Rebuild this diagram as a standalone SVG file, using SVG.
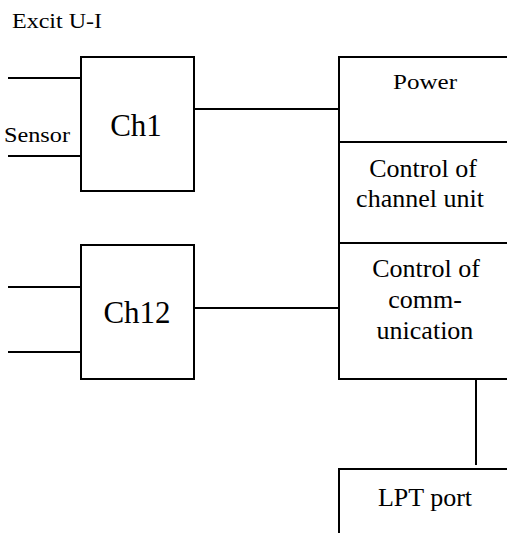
<svg xmlns="http://www.w3.org/2000/svg" width="507" height="533" viewBox="0 0 507 533">
<style>
.box{fill:#fff;stroke:#000;stroke-width:2}
.ln{stroke:#000;stroke-width:2;fill:none}
text{font-family:"Liberation Serif","Times New Roman",serif;fill:#000}
.s{font-size:21px}
.m{font-size:26px;text-anchor:middle}
.l{font-size:31px;text-anchor:middle}
</style>
<rect width="507" height="533" fill="#fff"/>
<text class="s" x="12" y="28" textLength="90" lengthAdjust="spacingAndGlyphs">Excit U-I</text>
<text class="s" x="4" y="142" textLength="66" lengthAdjust="spacingAndGlyphs">Sensor</text>
<g id="connectors">
<line class="ln" x1="8" y1="78" x2="81" y2="78"/>
<line class="ln" x1="8" y1="156" x2="81" y2="156"/>
<line class="ln" x1="8" y1="287" x2="81" y2="287"/>
<line class="ln" x1="8" y1="352" x2="81" y2="352"/>
<line class="ln" x1="194" y1="109" x2="339" y2="109"/>
<line class="ln" x1="194" y1="308" x2="339" y2="308"/>
<line class="ln" x1="476" y1="380" x2="476" y2="465"/>
</g>
<g id="ch1">
<rect class="box" x="81" y="57" width="113" height="134"/>
<text class="l" x="136" y="136">Ch1</text>
</g>
<g id="ch12">
<rect class="box" x="81" y="245" width="113" height="134"/>
<text class="l" x="137" y="323">Ch12</text>
</g>
<g id="power">
<rect class="box" x="339" y="57" width="190" height="85"/>
<text class="m" x="425" y="89" style="font-size:21px" textLength="64" lengthAdjust="spacingAndGlyphs">Power</text>
</g>
<g id="control-channel">
<rect class="box" x="339" y="142" width="190" height="101"/>
<text class="m" x="423" y="177">Control of</text>
<text class="m" x="420" y="207">channel unit</text>
</g>
<g id="control-communication">
<rect class="box" x="339" y="243" width="190" height="136"/>
<text class="m" x="426" y="277">Control of</text>
<text class="m" x="425" y="308">comm-</text>
<text class="m" x="425" y="339">unication</text>
</g>
<g id="lpt">
<rect class="box" x="339" y="469" width="190" height="80"/>
<text class="m" x="425" y="506">LPT port</text>
</g>
</svg>
